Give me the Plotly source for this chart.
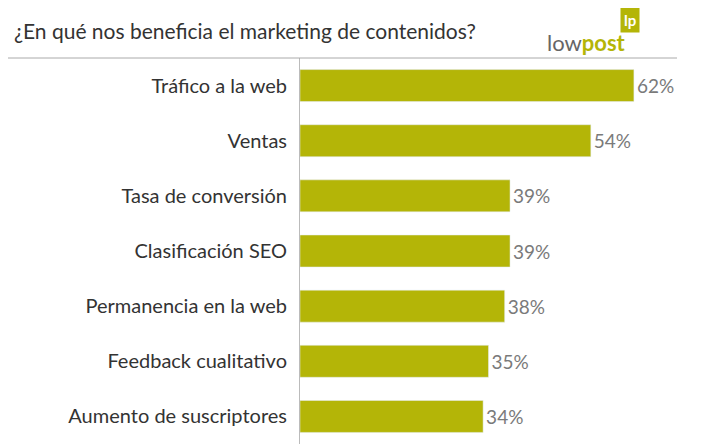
import plotly.graph_objects as go

categories = ["Tráfico a la web", "Ventas", "Tasa de conversión", "Clasificación SEO",
              "Permanencia en la web", "Feedback cualitativo", "Aumento de suscriptores"]
values = [62, 54, 39, 39, 38, 35, 34]

fig = go.Figure(go.Bar(
    x=values, y=categories, orientation="h",
    marker_color="#b4b507", width=0.58,
    text=[f"{v}%" for v in values], textposition="outside",
    textfont=dict(size=19, color="#7a7a7a"), cliponaxis=False,
))

fig.update_layout(
    width=712, height=436,
    margin=dict(l=292, r=43, t=50, b=0),
    paper_bgcolor="white", plot_bgcolor="white",
    font=dict(family="Lato", color="#333333"),
    showlegend=False,
    xaxis=dict(range=[0, 70], visible=False),
    yaxis=dict(autorange="reversed", tickfont=dict(size=20, color="#333333"),
               ticks="outside", ticklen=8, tickcolor="rgba(0,0,0,0)",
               showline=True, linecolor="#bbbbbb", linewidth=1),
    shapes=[dict(type="line", xref="paper", yref="paper", x0=-292/377, x1=1, y0=1, y1=1,
                 line=dict(color="#aaaaaa", width=1))],
    annotations=[
        dict(text="¿En qué nos beneficia el marketing de contenidos?", xref="paper", yref="paper",
             x=-288/377, y=1, yshift=28, xanchor="left", yanchor="middle", showarrow=False,
             font=dict(size=21, color="#333333")),
        dict(text="<span style='color:#666666'>low</span><b><span style='color:#b4b507'>post</span></b>",
             xref="paper", yref="paper", x=(578 - 292) / 377, y=1, yshift=16, xanchor="center",
             yanchor="middle", showarrow=False, font=dict(size=22)),
        dict(text="<b>lp</b>", xref="paper", yref="paper", x=(622 - 292) / 377, y=1, yshift=38,
             xanchor="center", yanchor="middle", showarrow=False, bgcolor="#b4b507",
             font=dict(size=15, color="white"), borderpad=3),
    ],
)

fig.write_html("out.html")
